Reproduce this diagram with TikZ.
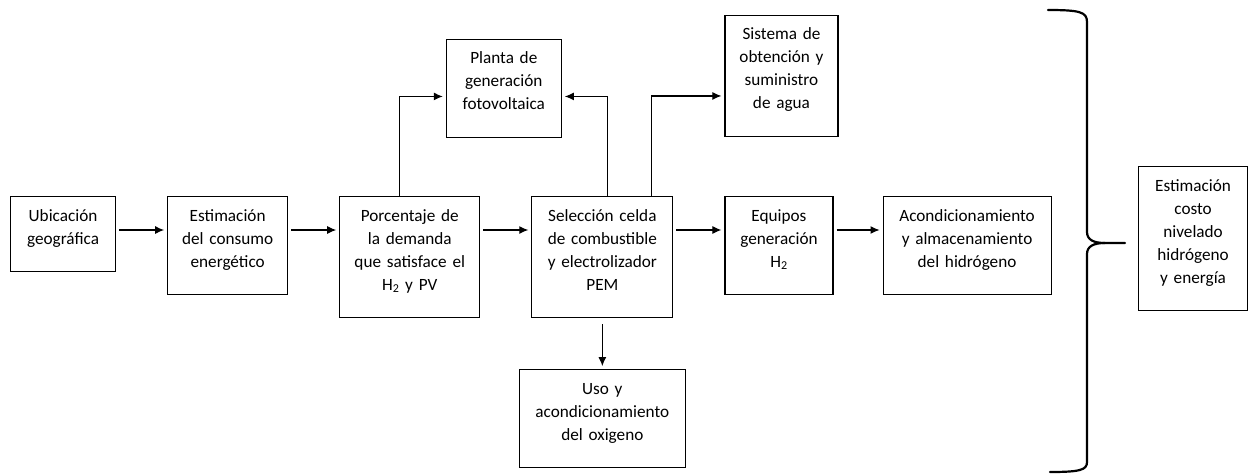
\documentclass[tikz,border=0pt]{standalone}
\usepackage{fontspec}
\setmainfont{Carlito}
\usetikzlibrary{positioning,arrows.meta,calc}
\tikzset{
  box/.style={rectangle, draw=black, line width=1.1pt, align=center, text width=#1-4pt,
    inner xsep=2pt, inner ysep=8.5pt, text height=16pt, font=\fontsize{17.2}{23}\selectfont,
    execute at end node={\rule[-19pt]{0pt}{0pt}}},
  connect/.style={-{Latex[length=9pt,width=8pt]}, line width=1.1pt, shorten >=3pt},
  brace/.style={line width=2.2pt, line cap=round}
}

\begin{document}
\begin{tikzpicture}[x=1pt, y=1pt]
	  \useasboundingbox (0,0) rectangle (1249,-474);

	  % Main chain
	  \node[box=105pt, anchor=north west] (ubic) at (10,-196) {Ubicación\\geográfica};
	  \node[box=120pt, right=51pt of ubic.north east, anchor=north west] (cons) {Estimación\\del consumo\\energético};
	  \node[box=140pt, right=51pt of cons.north east, anchor=north west] (porc) {Porcentaje de\\la demanda\\que satisface el\\H\textsubscript{2} y PV};
	  \node[box=141pt, right=51pt of porc.north east, anchor=north west] (sel) {Selección celda\\de combustible\\y electrolizador\\PEM};
	  \node[box=108pt, right=51pt of sel.north east, anchor=north west] (equi) {Equipos\\generación\\H\textsubscript{2}};
	  \node[box=168pt, right=49pt of equi.north east, anchor=north west] (acond) {Acondicionamiento\\y almacenamiento\\del hidrógeno};

	  \foreach \a/\b in {ubic/cons, cons/porc, porc/sel, sel/equi, equi/acond} {
		\draw[connect, shorten <=3pt] ([yshift=-34pt]\a.north east) -- ([yshift=-34pt]\b.north west);
	  }

	  % Side branches
	  \node[box=115pt, above=58pt of $(porc.north east)!0.5!(sel.north west)$, anchor=south, xshift=-2pt] (planta) {Planta de\\generación\\fotovoltaica};
	  \node[box=113pt, above=59pt of equi.north west, anchor=south west] (sist) {Sistema de\\obtención y\\suministro\\de agua};
	  \node[box=166pt, below=51pt of sel] (uso) {Uso y\\acondicionamiento\\del oxigeno};

	  \draw[connect] ([xshift=-10pt]porc.north) |- ([yshift=-8pt]planta.west);
	  \draw[connect] ([xshift=5pt]sel.north) |- ([yshift=-8pt]planta.east);
	  \draw[connect] ([xshift=49pt]sel.north) |- ([yshift=-20pt]sist.west);
	  \draw[connect, shorten <=6pt] (uso.north |- sel.south) -- (uso.north);

	  % Brace and result
	  \draw[brace] (1048,-10) .. controls (1080,-10) and (1087,-12) .. (1087,-22)
		-- (1087,-232) .. controls (1087,-240) and (1094,-243) .. (1105,-243) -- (1125,-243);
	  \draw[brace] (1105,-243) .. controls (1094,-243) and (1087,-246) .. (1087,-254)
		-- (1087,-462) .. controls (1087,-470) and (1080,-472) .. (1050,-472);

	  \node[box=109pt, anchor=north west] (costo) at (1138,-166) {Estimación\\costo\\nivelado\\hidrógeno\\y energía};

\end{tikzpicture}
\end{document}
